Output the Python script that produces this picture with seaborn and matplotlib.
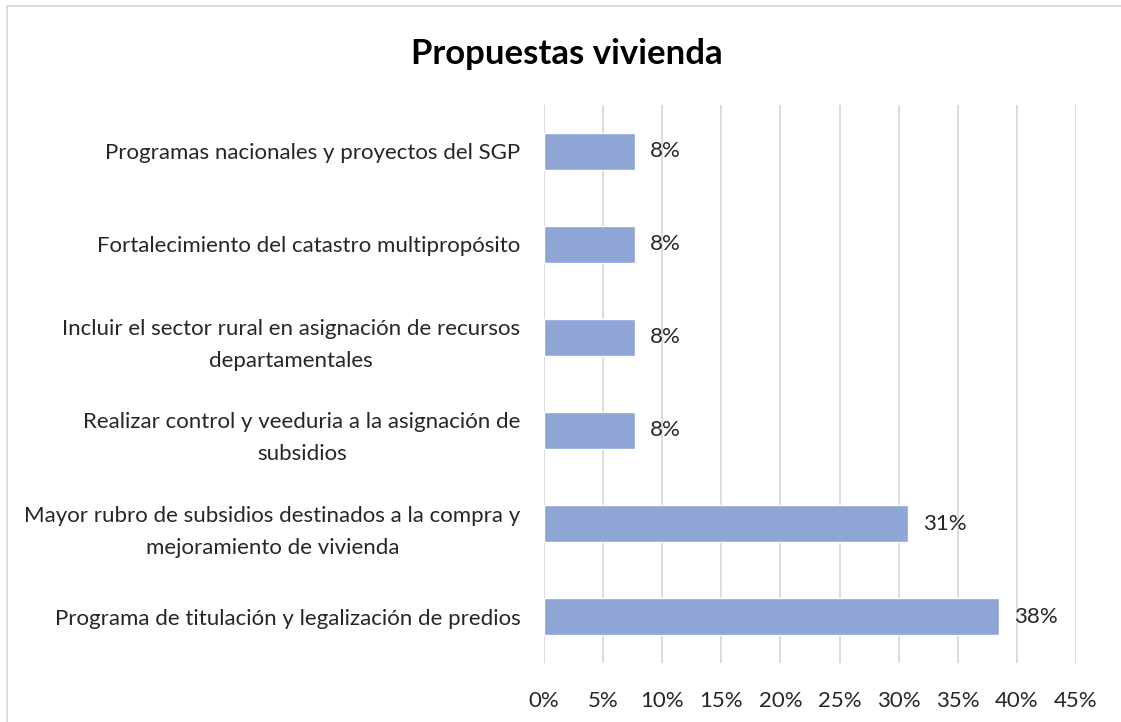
import matplotlib
matplotlib.use("Agg")
import matplotlib.pyplot as plt
import seaborn as sns
import pandas as pd
from matplotlib.patches import Rectangle

# Proposals (top to bottom) and their share of responses
categories = [
    "Programas nacionales y proyectos del SGP",
    "Fortalecimiento del catastro multipropósito",
    "Incluir el sector rural en asignación de recursos\ndepartamentales",
    "Realizar control y veeduria a la asignación de\nsubsidios",
    "Mayor rubro de subsidios destinados a la compra y\nmejoramiento de vivienda",
    "Programa de titulación y legalización de predios",
]
shares = [1 / 13, 1 / 13, 1 / 13, 1 / 13, 4 / 13, 5 / 13]
x_ticks = [0, 0.05, 0.10, 0.15, 0.20, 0.25, 0.30, 0.35, 0.40, 0.45]
x_tick_labels = ["0%", "5%", "10%", "15%", "20%", "25%", "30%", "35%", "40%", "45%"]
title = "Propuestas vivienda"

df = pd.DataFrame({"categoria": categories, "valor": shares})

sns.set_theme(style="white")
plt.rcParams["font.family"] = ["Lato", "DejaVu Sans"]

FS = 16
fig = plt.figure(figsize=(11.21, 7.22), dpi=100)
ax = fig.add_axes([0.4853, 0.0817, 0.4746, 0.7729])

sns.barplot(data=df, y="categoria", x="valor", orient="h", color="#8FA5D6",
            saturation=1, width=0.39, ax=ax, order=categories)

ax.set_xlim(0, 0.45)
ax.set_xticks(x_ticks)
ax.set_xticklabels(x_tick_labels, fontsize=FS, color="#262626")
ax.grid(axis="x", color="#D9D9D9", linewidth=1.3)
ax.set_axisbelow(True)
for s in ax.spines.values():
    s.set_visible(False)
ax.tick_params(axis="x", length=0, pad=20)
ax.tick_params(axis="y", length=0, pad=17)
ax.set_xlabel("")
ax.set_ylabel("")
for lbl in ax.get_yticklabels():
    lbl.set_fontsize(FS)
    lbl.set_color("#262626")
    lbl.set_multialignment("center")
    lbl.set_linespacing(1.75)

for container in ax.containers:
    ax.bar_label(container, labels=[f"{v * 100:.0f}%" for v in shares],
                 padding=11, fontsize=FS, color="#262626")

fig.text(0.506, 0.925, title, ha="center", va="center",
         fontsize=25, fontweight="bold", color="#000000")

# Chart-area frame
fig.patches.append(Rectangle((7 / 1121, -0.01), 1.2, 1 - 6 / 722 + 0.01,
                             transform=fig.transFigure, fill=False,
                             edgecolor="#D9D9D9", linewidth=1.3))

fig.savefig("out.png", dpi=100)
